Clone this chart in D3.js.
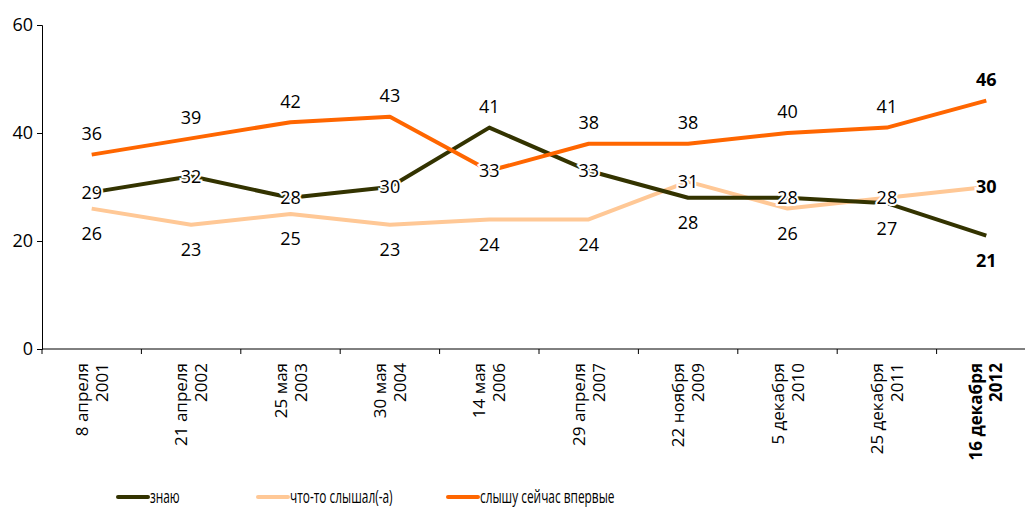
<!DOCTYPE html>
<html>
<head>
<meta charset="utf-8">
<script src="https://cdn.jsdelivr.net/npm/d3@7"></script>
<style>
  html, body { margin: 0; padding: 0; background: #fff; }
  svg { display: block; }
  text { font-family: "Open Sans", "DejaVu Sans", sans-serif; fill: #000; }
</style>
</head>
<body>
<svg id="chart" width="1025" height="509"></svg>
<script>
// Survey dates (two-line labels)
const dates = [
  ["8 апреля", "2001"], ["21 апреля", "2002"], ["25 мая", "2003"], ["30 мая", "2004"],
  ["14 мая", "2006"], ["29 апреля", "2007"], ["22 ноября", "2009"], ["5 декабря", "2010"],
  ["25 декабря", "2011"], ["16 декабря", "2012"]
];

// Share of respondents, %
const know      = [29, 32, 28, 30, 41, 33, 28, 28, 27, 21];
const heardSome = [26, 23, 25, 23, 24, 24, 31, 26, 28, 30];
const firstTime = [36, 39, 42, 43, 33, 38, 38, 40, 41, 46];

const seriesNames = ["знаю", "что-то слышал(-а)", "слышу сейчас впервые"];
const yTicks = [0, 20, 40, 60];

// Where each value label sits relative to its point: a = above, c = on the line, b = below
const knowPlace  = ["c", "c", "c", "c", "a", "c", "b", "c", "b", "b"];
const heardPlace = ["b", "b", "b", "b", "b", "b", "c", "b", "c", "c"];
const firstPlace = ["a", "a", "a", "a", "c", "a", "a", "a", "a", "a"];

const series = [
  { name: seriesNames[1], values: heardSome, place: heardPlace, color: "#ffc896" },
  { name: seriesNames[0], values: know,      place: knowPlace,  color: "#333300" },
  { name: seriesNames[2], values: firstTime, place: firstPlace, color: "#ff6600" }
];

const svg = d3.select("#chart");
const x = d3.scaleBand().domain(d3.range(dates.length)).range([42, 1036]);
const y = d3.scaleLinear().domain([0, 60]).range([349, 25]);
const cx = i => x(i) + x.bandwidth() / 2;

// Y axis
const yAxis = svg.append("g").attr("transform", "translate(42,0)")
  .call(d3.axisLeft(y).tickValues(yTicks).tickSize(5).tickPadding(4));
yAxis.select(".domain").attr("stroke", "#000");
yAxis.selectAll("text").style("font-size", "18px");

// X axis with ticks at category boundaries
const xg = svg.append("g");
xg.append("line").attr("x1", 42).attr("x2", 1025).attr("y1", 349).attr("y2", 349).attr("stroke", "#000");
xg.selectAll("line.tick").data(d3.range(dates.length + 1)).join("line")
  .attr("class", "tick")
  .attr("x1", i => i < dates.length ? x(i) : x(i - 1) + x.bandwidth())
  .attr("x2", i => i < dates.length ? x(i) : x(i - 1) + x.bandwidth())
  .attr("y1", 349).attr("y2", 354).attr("stroke", "#000");

const xl = xg.selectAll("g.lab").data(dates).join("g")
  .attr("class", "lab")
  .attr("transform", (d, i) => `translate(${cx(i)},363) rotate(-90)`);
xl.each(function (d, i) {
  const g = d3.select(this);
  const last = i === dates.length - 1;
  d.forEach((line, k) => {
    g.append("text")
      .attr("x", 0).attr("y", (k - 0.5) * 20 + 6)
      .attr("text-anchor", "end")
      .style("font-size", "17px")
      .attr("font-weight", last ? "bold" : "normal")
      .text(line);
  });
});

// Lines
const line = d3.line().x((d, i) => cx(i)).y(d => y(d));
series.forEach(s => {
  svg.append("path").datum(s.values)
    .attr("d", line).attr("fill", "none")
    .attr("stroke", s.color).attr("stroke-width", 4)
    .attr("stroke-linejoin", "round");
});

// Value labels
series.forEach(s => {
  svg.append("g").selectAll("text").data(s.values).join("text")
    .attr("x", (d, i) => cx(i))
    .attr("y", (d, i) => {
      const p = s.place[i];
      return y(d) + (p === "a" ? -21 : p === "b" ? 25 : 0);
    })
    .attr("dy", "0.36em")
    .attr("text-anchor", "middle")
    .style("font-size", "18px")
    .attr("font-weight", (d, i) => i === s.values.length - 1 ? "bold" : "normal")
    .attr("stroke", (d, i) => s.place[i] === "c" ? "#fff" : "none")
    .attr("stroke-width", 4)
    .attr("paint-order", "stroke")
    .text(d => d);
});

// Legend (condensed lettering via horizontal squeeze)
const legendItems = [
  { name: seriesNames[0], color: "#333300", x: 118 },
  { name: seriesNames[1], color: "#ffc896", x: 258 },
  { name: seriesNames[2], color: "#ff6600", x: 448 }
];
const lg = svg.append("g").attr("class", "legend");
legendItems.forEach(it => {
  lg.append("line").attr("x1", it.x).attr("x2", it.x + 30)
    .attr("y1", 497).attr("y2", 497)
    .attr("stroke", it.color).attr("stroke-width", 4).attr("stroke-linecap", "round");
  lg.append("text")
    .attr("transform", `translate(${it.x + 32},503) scale(0.66,1)`)
    .style("font-size", "18px").text(it.name);
});
</script>
</body>
</html>
